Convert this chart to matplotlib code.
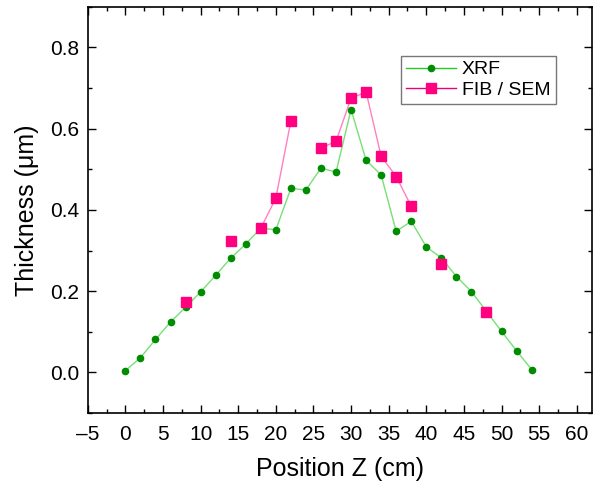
import numpy as np
import matplotlib.pyplot as plt
from matplotlib.ticker import MultipleLocator

plt.rcParams['font.family'] = ['Liberation Sans', 'DejaVu Sans']

# XRF scan along the sample
xrf_z = [0, 2, 4, 6, 8, 10, 12, 14, 16, 18, 20, 22, 24, 26,
         28, 30, 32, 34, 36, 38, 40, 42, 44, 46, 48, 50, 52, 54]
xrf_t = [0.004, 0.036, 0.081, 0.124, 0.160, 0.198, 0.239, 0.281, 0.316, 0.355,
         0.351, 0.453, 0.449, 0.503, 0.493, 0.647, 0.522, 0.486, 0.347, 0.372,
         0.309, 0.282, 0.236, 0.199, 0.150, 0.101, 0.053, 0.007]

# FIB / SEM cross sections (NaN where no section was cut)
fib_z = [8, 10, 12, 14, 16, 18, 20, 22, 24, 26, 28, 30, 32, 34, 36, 38, 40, 42, 44, 46, 48]
fib_t = [0.174, np.nan, np.nan, 0.323, np.nan, 0.355, 0.429, 0.619, np.nan, 0.552,
         0.569, 0.675, 0.690, 0.532, 0.482, 0.409, np.nan, 0.268, np.nan, np.nan, 0.148]

xticks = list(range(-5, 61, 5))
xticklabels = [('\u2013' + str(-v)) if v < 0 else str(v) for v in xticks]
yticks = [0.0, 0.2, 0.4, 0.6, 0.8]

fig, ax = plt.subplots(figsize=(5.93, 4.87), dpi=100)
fig.subplots_adjust(left=0.148, right=0.998, top=0.986, bottom=0.152)

ax.plot(xrf_z, xrf_t, color='#77e077', lw=1.0, zorder=2)
ax.plot(xrf_z, xrf_t, ls='none', marker='o', ms=4.5, mfc='#008c00', mec='#008c00', zorder=3)
ax.plot(fib_z, fib_t, color='#ff80c0', lw=1.0, zorder=4)
ax.plot(fib_z, fib_t, ls='none', marker='s', ms=6.5, mfc='#ff007f', mec='#ff007f', zorder=5)

# legend handles carry line + marker together
h1, = ax.plot([], [], color='#22cc22', lw=1.0, marker='o', ms=4.5, mfc='#008c00', mec='#008c00', label='XRF')
h2, = ax.plot([], [], color='#e8007f', lw=1.0, marker='s', ms=6.5, mfc='#ff007f', mec='#ff007f', label='FIB / SEM')
leg = ax.legend(handles=[h1, h2], loc='upper left', bbox_to_anchor=(0.621, 0.879),
                fontsize=14, frameon=True, fancybox=False, borderpad=0.25,
                handlelength=2.6, handletextpad=0.3, labelspacing=0.15, borderaxespad=0)
leg.get_frame().set_edgecolor('#555555')
leg.get_frame().set_linewidth(1.0)

ax.set_xlim(-5, 62)
ax.set_ylim(-0.1, 0.9)
ax.xaxis.set_minor_locator(MultipleLocator(2.5))
ax.yaxis.set_minor_locator(MultipleLocator(0.1))
ax.set_yticks(yticks)
ax.set_yticklabels([f'{v:.1f}' for v in yticks])
ax.set_xticks(xticks)
ax.set_xticklabels(xticklabels)

ax.tick_params(which='both', direction='in', top=True, right=True, labelsize=15, width=1.0)
ax.tick_params(which='major', length=6, pad=6)
ax.tick_params(axis='x', which='major', pad=9)
ax.tick_params(which='minor', length=3)
for s in ax.spines.values():
    s.set_linewidth(1.2)

ax.set_xlabel('Position Z (cm)', fontsize=18, labelpad=9)
ax.set_ylabel('Thickness (\u03bcm)', fontsize=18, labelpad=8)

fig.savefig('out.png', dpi=100)
